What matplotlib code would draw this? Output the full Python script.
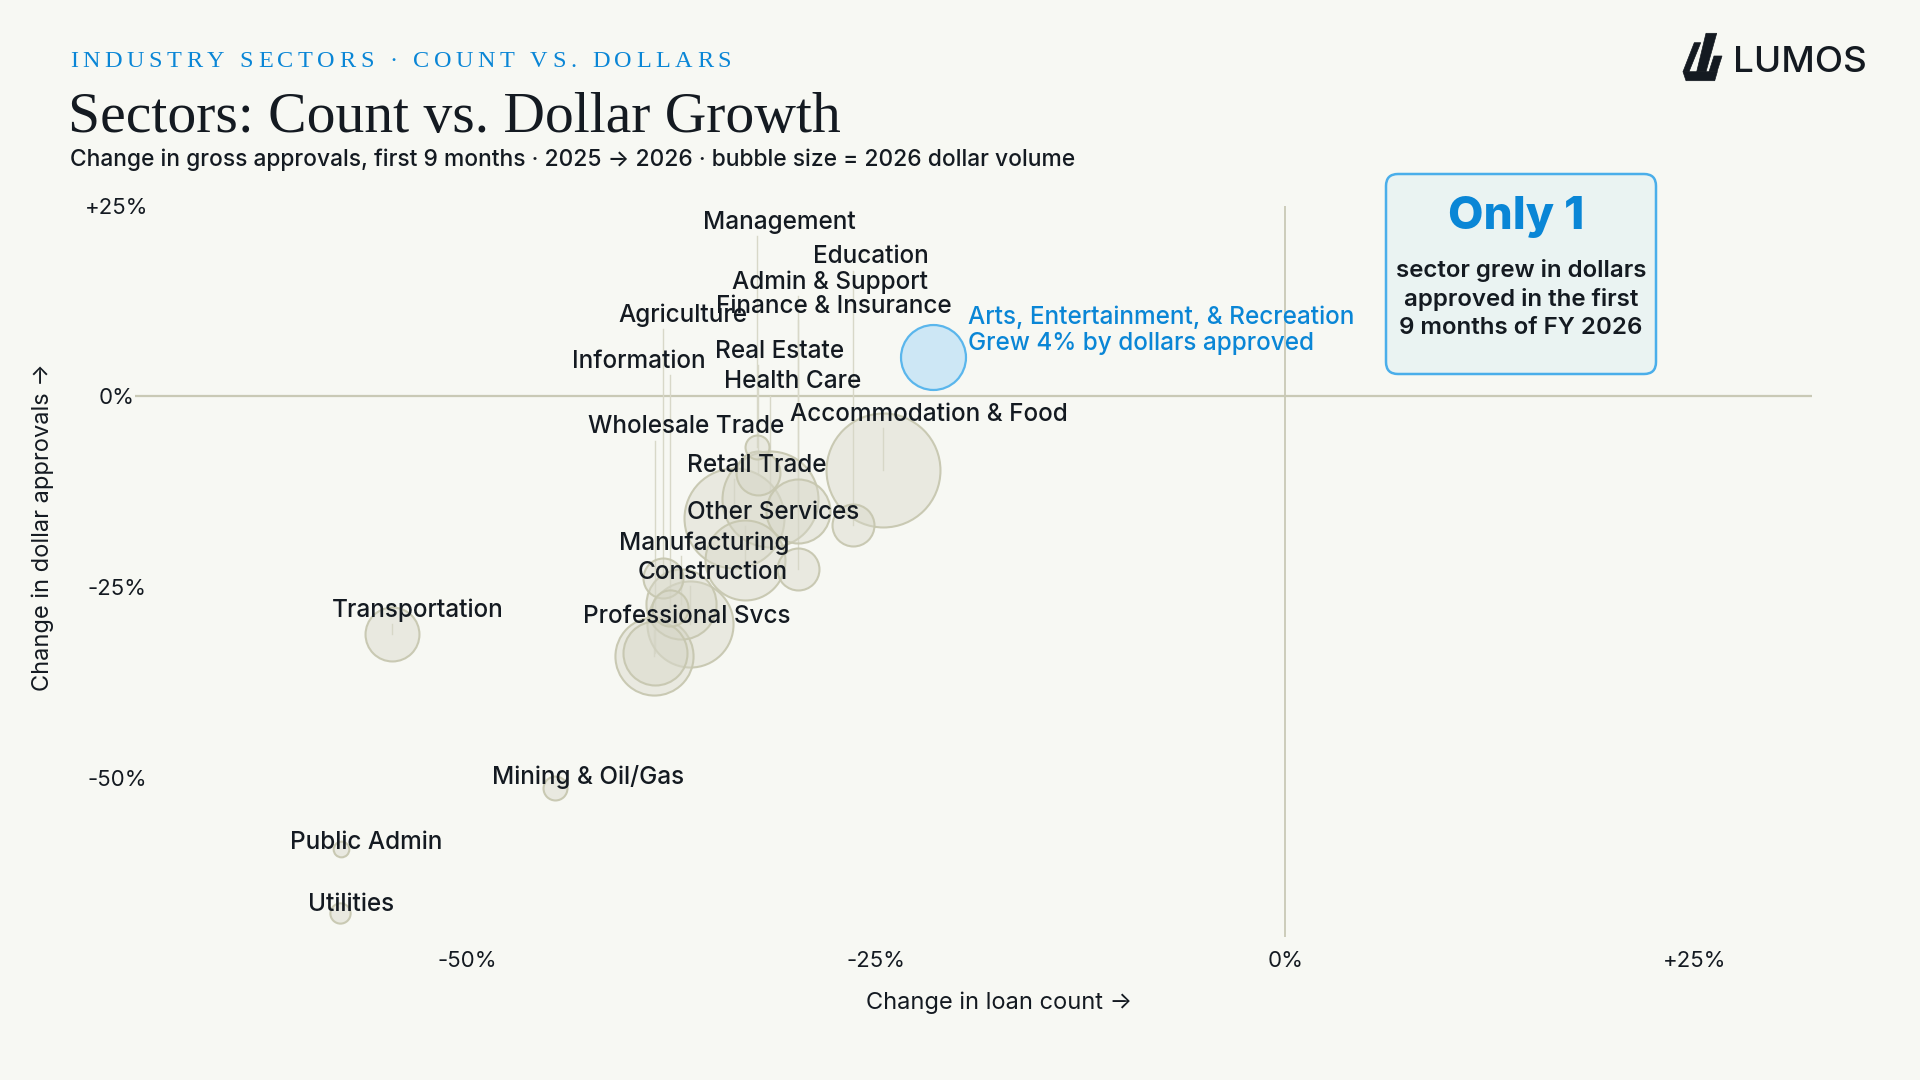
import matplotlib
matplotlib.use("Agg")
import matplotlib.pyplot as plt
import numpy as np
from matplotlib.patches import FancyBboxPatch, Polygon

# ---------------- data ----------------
sectors = [
    "Agriculture", "Mining & Oil/Gas", "Utilities", "Construction", "Manufacturing",
    "Wholesale Trade", "Retail Trade", "Transportation", "Information",
    "Finance & Insurance", "Real Estate", "Professional Svcs", "Management",
    "Admin & Support", "Education", "Health Care",
    "Arts, Entertainment, & Recreation", "Accommodation & Food", "Other Services",
    "Public Admin",
]
# % change in loan count, 2025 -> 2026 (first 9 months)
count_change = [-38.0, -44.6, -57.8, -36.4, -36.9, -38.5, -33.7, -54.6, -37.6,
                -29.8, -32.2, -38.6, -32.3, -29.8, -26.4, -31.5, -21.5, -24.6,
                -33.0, -57.7]
# % change in dollar approvals
dollar_change = [-23.8, -51.4, -67.7, -29.8, -27.2, -33.7, -15.9, -31.2, -27.7,
                 -22.6, -10.1, -34.0, -6.6, -15.0, -16.9, -13.4, 5.1, -9.7,
                 -21.5, -59.3]
# 2026 dollar volume ($B) -> bubble size
volume_2026 = [0.39, 0.14, 0.10, 1.81, 1.20, 1.00, 2.44, 0.71, 0.32, 0.43, 0.47,
               1.49, 0.14, 1.00, 0.43, 2.25, 1.03, 3.17, 1.56, 0.06]

x_ticks = [-50, -25, 0, 25]
y_ticks = [25, 0, -25, -50]
tick_labels_x = ["-50%", "-25%", "0%", "+25%"]
tick_labels_y = ["+25%", "0%", "-25%", "-50%"]

highlight = "Arts, Entertainment, & Recreation"
highlight_note = "Grew 4% by dollars approved"

# label placement (layout, data coordinates of label centre)
label_pos = {
    "Agriculture": (-36.8, 10.6), "Mining & Oil/Gas": (-42.6, -49.9),
    "Utilities": (-57.1, -66.6), "Construction": (-35.0, -23.1),
    "Manufacturing": (-35.5, -19.2), "Wholesale Trade": (-36.6, -4.0),
    "Retail Trade": (-32.3, -9.1), "Transportation": (-53.0, -28.0),
    "Information": (-39.5, 4.6), "Finance & Insurance": (-27.6, 11.8),
    "Real Estate": (-30.9, 5.9), "Professional Svcs": (-36.6, -28.9),
    "Management": (-30.9, 22.8), "Admin & Support": (-27.8, 14.9),
    "Education": (-25.3, 18.3), "Health Care": (-30.1, 1.9),
    "Accommodation & Food": (-21.8, -2.4), "Other Services": (-31.3, -15.2),
    "Public Admin": (-56.2, -58.5),
}

# ---------------- style ----------------
BG = "#f7f8f3"
INK = "#141a21"
BLUE = "#0a86d6"
SANS = ["Inter", "DejaVu Sans"]
SERIF = ["Liberation Serif", "DejaVu Serif"]

W, H = 1920, 1080
fig = plt.figure(figsize=(19.2, 10.8), dpi=100, facecolor=BG)

# main axes placed in pixel space
L, R, T, B = 135, 1812, 205.7, 937
ax = fig.add_axes([L / W, (H - B) / H, (R - L) / W, (B - T) / H])
ax.set_facecolor("none")
ax.set_xlim(-70.3, 32.2)
ax.set_ylim(-70.9, 25)
for s in ax.spines.values():
    s.set_visible(False)
ax.axhline(0, color="#c9c9b5", lw=1.6, zorder=1)
ax.axvline(0, color="#c9c9b5", lw=1.3, zorder=1)

ax.set_xticks(x_ticks)
ax.set_xticklabels(tick_labels_x, fontsize=16, color=INK, family=SANS)
ax.set_yticks(y_ticks)
ax.set_yticklabels(tick_labels_y, fontsize=16, color=INK, family=SANS, ha="center")
ax.tick_params(axis="x", length=0, pad=10)
ax.tick_params(axis="y", length=0, pad=13)

ax.set_xlabel("Change in loan count →", fontsize=17, color=INK, family=SANS)
ax.xaxis.label.set_va("center")
ax.xaxis.set_label_coords((999 - L) / (R - L), -(1003 - B) / (B - T))
ax.set_ylabel("Change in dollar approvals →", fontsize=17, color=INK, family=SANS)
ax.yaxis.label.set_va("center")
ax.yaxis.set_label_coords(-(L - 43) / (R - L), (B - 527) / (B - T))

x = np.array(count_change)
y = np.array(dollar_change)
v = np.array(volume_2026)
r_px = 32 * np.sqrt(v)                  # radius in pixels
sizes = (2 * r_px * 72 / 100) ** 2      # scatter area in pt^2

# leader lines
for i, name in enumerate(sectors):
    if name in label_pos:
        lx, ly = label_pos[name]
        top = ly - 1.8
        if top > y[i]:
            ax.plot([x[i], x[i]], [top, y[i]], color="#d8d8c8", lw=1.0, zorder=2)

order = np.argsort(-v)
is_hi = np.array([s == highlight for s in sectors])
for i in order:
    if is_hi[i]:
        ax.scatter(x[i], y[i], s=sizes[i], facecolor="#cde7f5", edgecolor="#5ab6ec",
                   linewidth=1.6, zorder=4)
    else:
        ax.scatter(x[i], y[i], s=sizes[i], facecolor=(0.84, 0.84, 0.78, 0.42),
                   edgecolor=(0.78, 0.78, 0.69, 0.95), linewidth=1.5, zorder=3)

for name, (lx, ly) in label_pos.items():
    ax.text(lx, ly, name, fontsize=17.5, color=INK, family=SANS, weight="medium",
            ha="center", va="center", zorder=6)

ax.text(-19.4, 8.7, highlight + "\n" + highlight_note, fontsize=17.5, color=BLUE,
        family=SANS, weight="medium", ha="left", va="center", linespacing=1.15, zorder=6)

# ---------------- overlay (pixel coords) ----------------
ov = fig.add_axes([0, 0, 1, 1], zorder=5)
ov.set_xlim(0, W)
ov.set_ylim(H, 0)
ov.axis("off")
ov.patch.set_alpha(0)

renderer = fig.canvas.get_renderer()


def spaced_text(axis, x0, y0, text, target_width, **kw):
    """Draw text with uniform letter spacing so that it spans target_width px."""
    widths = []
    for ch in text:
        t = axis.text(0, 0, ch if ch != " " else "n", **kw)
        bb = t.get_window_extent(renderer=renderer)
        w = bb.width if ch != " " else bb.width * 0.55
        widths.append(w)
        t.remove()
    gap = (target_width - sum(widths)) / (len(text) - 1)
    cx = x0
    for ch, w in zip(text, widths):
        if ch != " ":
            axis.text(cx, y0, ch, ha="left", va="baseline", **kw)
        cx += w + gap


spaced_text(ov, 70, 66.7, "INDUSTRY SECTORS · COUNT VS. DOLLARS", 661,
            fontsize=17.5, color=BLUE, family=SERIF)
ov.text(68, 131.7, "Sectors: Count vs. Dollar Growth", fontsize=41.5, color=INK,
        family=SERIF, ha="left", va="baseline")
ov.text(70, 165.7, "Change in gross approvals, first 9 months · 2025 → 2026 · bubble size = 2026 dollar volume",
        fontsize=16.4, color=INK, family=SANS, weight="medium", ha="left", va="baseline")

# callout box
box = FancyBboxPatch((1394, 182), 254, 184, boxstyle="round,pad=8,rounding_size=12",
                     facecolor="#eaf3f2", edgecolor="#4aaeea", linewidth=1.8)
ov.add_patch(box)
ov.text(1516, 217, "Only 1", fontsize=33, weight="heavy", color=BLUE, family=SANS,
        ha="center", va="center")
ov.text(1521, 299, "sector grew in dollars\napproved in the first\n9 months of FY 2026",
        fontsize=17.3, weight="semibold", color=INK, family=SANS, ha="center",
        va="center", linespacing=1.35)

# logo
logo_polys = [
    [(1694.3, 42.7), (1700.7, 42.7), (1689, 71.7), (1683, 71.7)],
    [(1706, 33.3), (1716.7, 33.3), (1706, 71.7), (1696.7, 71.7)],
    [(1714, 56), (1722, 56), (1717, 71.7), (1709, 71.7)],
    [(1683, 71.7), (1717.3, 71.7), (1714.7, 80.7), (1686, 80.7)],
]
for pts in logo_polys:
    ov.add_patch(Polygon(pts, closed=True, facecolor=INK, edgecolor=INK, lw=0.5))
ov.text(1733, 71.7, "LUMOS", fontsize=26.5, weight="medium", color=INK, family=SANS,
        ha="left", va="baseline")

fig.savefig("out.png", dpi=100, facecolor=BG)
